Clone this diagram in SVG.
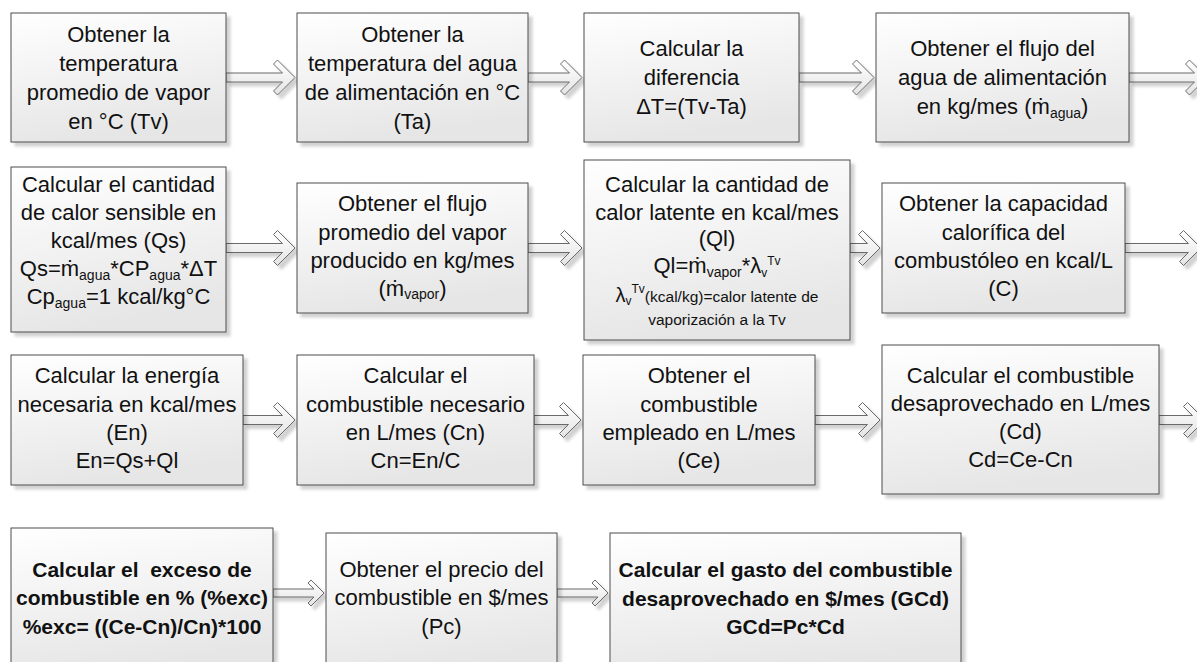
<svg xmlns="http://www.w3.org/2000/svg" width="1197" height="662" viewBox="0 0 1197 662">
<defs>
<linearGradient id="gb" x1="0" y1="0" x2="0.25" y2="1">
<stop offset="0" stop-color="#ffffff"/>
<stop offset="1" stop-color="#e6e6e6"/>
</linearGradient>
<linearGradient id="ga" x1="0" y1="0" x2="0" y2="1">
<stop offset="0" stop-color="#ffffff"/>
<stop offset="1" stop-color="#e4e4e4"/>
</linearGradient>
<filter id="sh" x="-10%" y="-10%" width="130%" height="130%">
<feDropShadow dx="4" dy="4" stdDeviation="1.5" flood-color="#000" flood-opacity="0.18"/>
</filter>
<style>
.box{fill:url(#gb);stroke:#4d4d4d;stroke-width:1;filter:url(#sh)}
.arr{fill:url(#ga);stroke:#6b6b6b;stroke-width:1;filter:url(#sh)}
text{font-family:"Liberation Sans",Arial,sans-serif;font-size:22px;fill:#111;text-anchor:middle}
.b{font-weight:bold;font-size:21px}
.s{font-size:15.5px}
.sub{font-size:14px}
.ss{font-size:12px}
</style>
</defs>

<g id="connectors">
<polygon class="arr" points="226,73 282.5,73 273.5,64 277.5,60 295,77.5 277.5,95 273.5,91 282.5,82 226,82"/>
<polygon class="arr" points="528,73 569.5,73 560.5,64 564.5,60 582,77.5 564.5,95 560.5,91 569.5,82 528,82"/>
<polygon class="arr" points="799,73 861.5,73 852.5,64 856.5,60 874,77.5 856.5,95 852.5,91 861.5,82 799,82"/>
<polygon class="arr" points="1129,73 1194.5,73 1185.5,64 1189.5,60 1207,77.5 1189.5,95 1185.5,91 1194.5,82 1129,82"/>
<polygon class="arr" points="226,243.5 282.5,243.5 273.5,234.5 277.5,230.5 295,248 277.5,265.5 273.5,261.5 282.5,252.5 226,252.5"/>
<polygon class="arr" points="528,243.5 569.5,243.5 560.5,234.5 564.5,230.5 582,248 564.5,265.5 560.5,261.5 569.5,252.5 528,252.5"/>
<polygon class="arr" points="850,243.5 867.5,243.5 858.5,234.5 862.5,230.5 880,248 862.5,265.5 858.5,261.5 867.5,252.5 850,252.5"/>
<polygon class="arr" points="1125,243.5 1188.5,243.5 1179.5,234.5 1183.5,230.5 1201,248 1183.5,265.5 1179.5,261.5 1188.5,252.5 1125,252.5"/>
<polygon class="arr" points="243,415.5 282.5,415.5 273.5,406.5 277.5,402.5 295,420 277.5,437.5 273.5,433.5 282.5,424.5 243,424.5"/>
<polygon class="arr" points="534,415.5 568.5,415.5 559.5,406.5 563.5,402.5 581,420 563.5,437.5 559.5,433.5 568.5,424.5 534,424.5"/>
<polygon class="arr" points="815,415.5 867.5,415.5 858.5,406.5 862.5,402.5 880,420 862.5,437.5 858.5,433.5 867.5,424.5 815,424.5"/>
<polygon class="arr" points="1159,415.5 1192.5,415.5 1183.5,406.5 1187.5,402.5 1205,420 1187.5,437.5 1183.5,433.5 1192.5,424.5 1159,424.5"/>
<polygon class="arr" points="273,589 314,589 308,583 311,580 324,593 311,606 308,603 314,597 273,597"/>
<polygon class="arr" points="557,589 598,589 592,583 595,580 608,593 595,606 592,603 598,597 557,597"/>
</g>

<g id="n1">
<rect class="box" x="11" y="13" width="215" height="129"/>
<text x="118.5" y="41.5">Obtener la</text>
<text x="118.5" y="71">temperatura</text>
<text x="118.5" y="100">promedio de vapor</text>
<text x="118.5" y="129">en °C (Tv)</text>
</g>

<g id="n2">
<rect class="box" x="297" y="13" width="231" height="129"/>
<text x="412.5" y="41.5">Obtener la</text>
<text x="412.5" y="71">temperatura del agua</text>
<text x="412.5" y="100">de alimentación en °C</text>
<text x="412.5" y="129">(Ta)</text>
</g>

<g id="n3">
<rect class="box" x="584" y="13" width="215" height="129"/>
<text x="691.5" y="56">Calcular la</text>
<text x="691.5" y="85">diferencia</text>
<text x="691.5" y="114">ΔT=(Tv-Ta)</text>
</g>

<g id="n4">
<rect class="box" x="876" y="13" width="253" height="129"/>
<text x="1002.5" y="56">Obtener el flujo del</text>
<text x="1002.5" y="85">agua de alimentación</text>
<text x="1002.5" y="114">en kg/mes (ṁ<tspan class="sub" dy="4">agua</tspan><tspan dy="-4">)</tspan></text>
</g>

<g id="n5">
<rect class="box" x="11" y="167" width="215" height="165"/>
<text x="118.5" y="192">Calcular el cantidad</text>
<text x="118.5" y="220">de calor sensible en</text>
<text x="118.5" y="248">kcal/mes (Qs)</text>
<text x="118.5" y="276">Qs=ṁ<tspan class="sub" dy="4">agua</tspan><tspan dy="-4">*CP</tspan><tspan class="sub" dy="4">agua</tspan><tspan dy="-4">*ΔT</tspan></text>
<text x="118.5" y="304">Cp<tspan class="sub" dy="4">agua</tspan><tspan dy="-4">=1 kcal/kg°C</tspan></text>
</g>

<g id="n6">
<rect class="box" x="297" y="183" width="231" height="130"/>
<text x="412.5" y="211">Obtener el flujo</text>
<text x="412.5" y="239.5">promedio del vapor</text>
<text x="412.5" y="268">producido en kg/mes</text>
<text x="412.5" y="296">(ṁ<tspan class="sub" dy="3">vapor</tspan><tspan dy="-3">)</tspan></text>
</g>

<g id="n7">
<rect class="box" x="584" y="160" width="266" height="180"/>
<text x="717" y="192">Calcular la cantidad de</text>
<text x="717" y="219.5">calor latente en kcal/mes</text>
<text x="717" y="246">(Ql)</text>
<text x="717" y="273">Ql=ṁ<tspan class="sub" dy="4">vapor</tspan><tspan dy="-4">*λ</tspan><tspan class="ss" dy="4">v</tspan><tspan class="ss" dy="-12">Tv</tspan></text>
<text x="717" y="302" class="s"><tspan style="font-size:20px">λ</tspan><tspan class="ss" dy="3">v</tspan><tspan class="ss" dy="-12">Tv</tspan><tspan dy="9">(kcal/kg)=calor latente de</tspan></text>
<text x="717" y="325" class="s">vaporización a la Tv</text>
</g>

<g id="n8">
<rect class="box" x="882" y="183" width="243" height="130"/>
<text x="1003.5" y="211">Obtener la capacidad</text>
<text x="1003.5" y="239.5">calorífica del</text>
<text x="1003.5" y="268">combustóleo en kcal/L</text>
<text x="1003.5" y="296">(C)</text>
</g>

<g id="n9">
<rect class="box" x="11" y="355" width="232" height="130"/>
<text x="127" y="383">Calcular la energía</text>
<text x="127" y="411.5">necesaria en kcal/mes</text>
<text x="127" y="440">(En)</text>
<text x="127" y="468">En=Qs+Ql</text>
</g>

<g id="n10">
<rect class="box" x="297" y="355" width="237" height="130"/>
<text x="415.5" y="383">Calcular el</text>
<text x="415.5" y="411.5">combustible necesario</text>
<text x="415.5" y="440">en L/mes (Cn)</text>
<text x="415.5" y="468">Cn=En/C</text>
</g>

<g id="n11">
<rect class="box" x="583" y="355" width="232" height="130"/>
<text x="699" y="383">Obtener el</text>
<text x="699" y="411.5">combustible</text>
<text x="699" y="440">empleado en L/mes</text>
<text x="699" y="468">(Ce)</text>
</g>

<g id="n12">
<rect class="box" x="882" y="345" width="277" height="149"/>
<text x="1020.5" y="383">Calcular el combustible</text>
<text x="1020.5" y="411">desaprovechado en L/mes</text>
<text x="1020.5" y="439">(Cd)</text>
<text x="1020.5" y="467">Cd=Ce-Cn</text>
</g>

<g id="n13">
<rect class="box" x="11" y="528" width="262" height="145"/>
<text x="142" y="577" class="b" xml:space="preserve">Calcular el  exceso de</text>
<text x="142" y="605" class="b">combustible en % (%exc)</text>
<text x="142" y="633.5" class="b">%exc= ((Ce-Cn)/Cn)*100</text>
</g>

<g id="n14">
<rect class="box" x="326" y="533" width="231" height="140"/>
<text x="441.5" y="577">Obtener el precio del</text>
<text x="441.5" y="605">combustible en $/mes</text>
<text x="441.5" y="633.5">(Pc)</text>
</g>

<g id="n15">
<rect class="box" x="610" y="533" width="351" height="140"/>
<text x="785.5" y="577" class="b">Calcular el gasto del combustible</text>
<text x="785.5" y="605.5" class="b">desaprovechado en $/mes (GCd)</text>
<text x="785.5" y="634" class="b">GCd=Pc*Cd</text>
</g>
</svg>
